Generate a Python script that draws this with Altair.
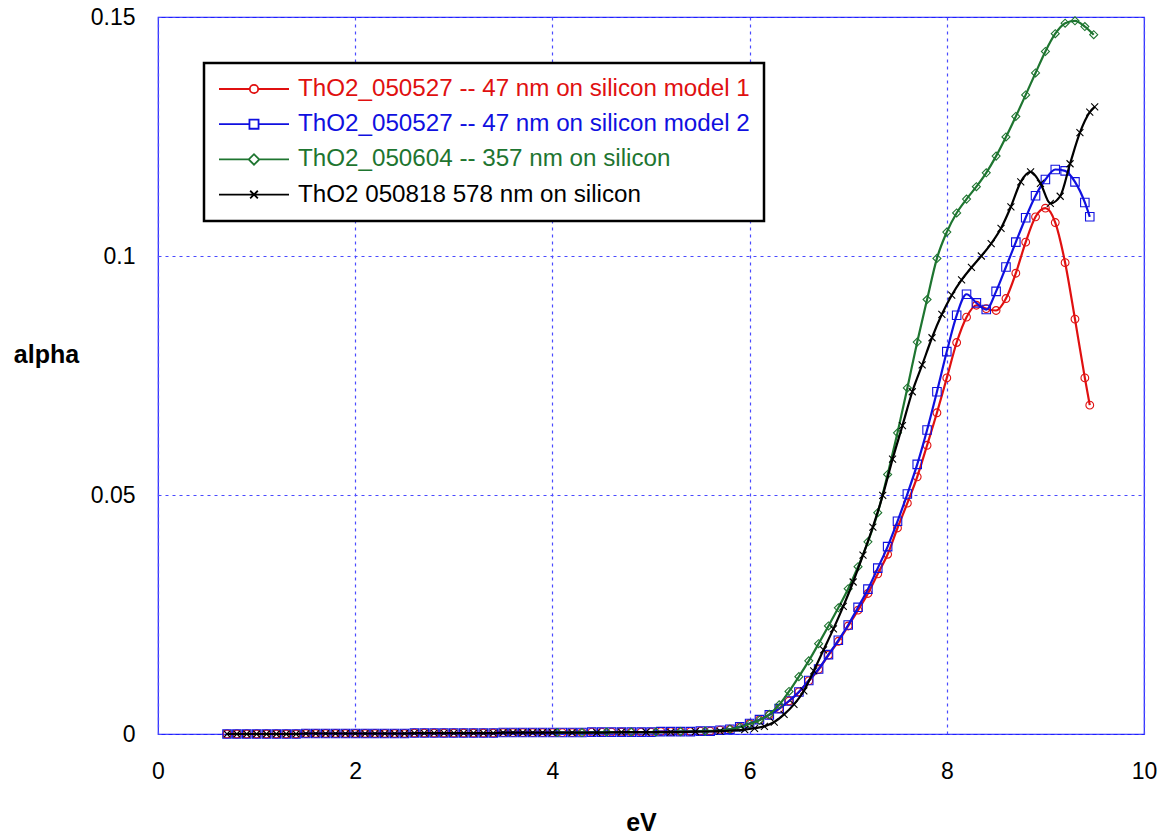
import altair as alt
import pandas as pd

names = [
    "ThO2_050527 -- 47 nm on silicon model 1",
    "ThO2_050527 -- 47 nm on silicon model 2",
    "ThO2_050604 -- 357 nm on silicon",
    "ThO2 050818 578 nm on silicon",
]
colors = ["#e01010", "#1010e0", "#1e7530", "#000000"]

# energy grid of the two 47 nm models (eV)
x_47 = [0.7, 0.8, 0.9, 1.0, 1.1, 1.2, 1.3, 1.4, 1.5, 1.6, 1.7, 1.8, 1.9,
        2.0, 2.1, 2.2, 2.3, 2.4, 2.5, 2.6, 2.7, 2.8, 2.9,
        3.0, 3.1, 3.2, 3.3, 3.4, 3.5, 3.6, 3.7, 3.8, 3.9,
        4.0, 4.1, 4.2, 4.3, 4.4, 4.5, 4.6, 4.7, 4.8, 4.9,
        5.0, 5.1, 5.2, 5.3, 5.4, 5.5, 5.6, 5.7, 5.8, 5.9,
        6.0, 6.1, 6.2, 6.3, 6.4, 6.5, 6.6, 6.7, 6.8, 6.9,
        7.0, 7.1, 7.2, 7.3, 7.4, 7.5, 7.6, 7.7, 7.8, 7.9,
        8.0, 8.1, 8.2, 8.3, 8.4, 8.5, 8.6, 8.7, 8.8, 8.9,
        9.0, 9.1, 9.2, 9.3, 9.4, 9.45]

y_model1 = [0.0, 0.0, 0.0, 0.0, 0.0, 0.0, 0.0, 0.0, 0.0001, 0.0001, 0.0001, 0.0001, 0.0001,
            0.0001, 0.0001, 0.0001, 0.0001, 0.0001, 0.0001, 0.0002, 0.0002, 0.0002, 0.0002,
            0.0002, 0.0002, 0.0002, 0.0002, 0.0002, 0.0003, 0.0003, 0.0003, 0.0003, 0.0003,
            0.0003, 0.0003, 0.0003, 0.0003, 0.0004, 0.0004, 0.0004, 0.0004, 0.0004, 0.0004,
            0.0004, 0.0005, 0.0005, 0.0005, 0.0005, 0.0006, 0.0006, 0.0008, 0.0010, 0.0015,
            0.0022, 0.0030, 0.0040, 0.0053, 0.0069, 0.0088, 0.0111, 0.0135, 0.0165, 0.0194,
            0.0226, 0.0259, 0.0294, 0.0335, 0.0376, 0.0431, 0.0483, 0.0538, 0.0604, 0.0672,
            0.0745, 0.0819, 0.0872, 0.0897, 0.0890, 0.0886, 0.0911, 0.0964, 0.1029, 0.1082,
            0.1100, 0.1070, 0.0986, 0.0868, 0.0745, 0.0688]

y_model2 = [0.0, 0.0, 0.0, 0.0, 0.0, 0.0, 0.0, 0.0, 0.0001, 0.0001, 0.0001, 0.0001, 0.0001,
            0.0001, 0.0001, 0.0001, 0.0001, 0.0001, 0.0001, 0.0002, 0.0002, 0.0002, 0.0002,
            0.0002, 0.0002, 0.0002, 0.0002, 0.0002, 0.0003, 0.0003, 0.0003, 0.0003, 0.0003,
            0.0003, 0.0003, 0.0003, 0.0003, 0.0004, 0.0004, 0.0004, 0.0004, 0.0004, 0.0004,
            0.0004, 0.0005, 0.0005, 0.0005, 0.0005, 0.0006, 0.0006, 0.0008, 0.0010, 0.0015,
            0.0022, 0.0030, 0.0040, 0.0053, 0.0069, 0.0088, 0.0112, 0.0136, 0.0166, 0.0196,
            0.0228, 0.0265, 0.0303, 0.0347, 0.0392, 0.0445, 0.0502, 0.0564, 0.0636, 0.0716,
            0.0800, 0.0876, 0.0920, 0.0902, 0.0888, 0.0926, 0.0977, 0.1029, 0.1080, 0.1126,
            0.1160, 0.1181, 0.1178, 0.1155, 0.1112, 0.1082]

x_357 = [4.05, 4.3, 4.55, 4.8, 5.05, 5.3, 5.55, 5.8, 5.9,
         6.0, 6.1, 6.2, 6.3, 6.4, 6.5, 6.6, 6.7, 6.8, 6.9,
         7.0, 7.1, 7.2, 7.3, 7.4, 7.5, 7.6, 7.7, 7.8, 7.9,
         8.0, 8.1, 8.2, 8.3, 8.4, 8.5, 8.6, 8.7, 8.8, 8.9,
         9.0, 9.1, 9.2, 9.3, 9.4, 9.49]
y_357 = [0.0003, 0.0003, 0.0004, 0.0004, 0.0004, 0.0005, 0.0006, 0.0010, 0.0014,
         0.0021, 0.0029, 0.0041, 0.0061, 0.0089, 0.0120, 0.0153, 0.0189, 0.0226, 0.0264,
         0.0304, 0.0350, 0.0402, 0.0463, 0.0543, 0.0630, 0.0724, 0.0820, 0.0909, 0.0995,
         0.1050, 0.1090, 0.1119, 0.1145, 0.1174, 0.1209, 0.1249, 0.1292, 0.1337, 0.1383,
         0.1428, 0.1465, 0.1487, 0.1492, 0.1480, 0.1463]

x_578 = [0.7, 0.8, 0.9, 1.0, 1.1, 1.2, 1.3, 1.4, 1.5, 1.6, 1.7, 1.8, 1.9,
         2.0, 2.1, 2.2, 2.3, 2.4, 2.5, 2.6, 2.7, 2.8, 2.9,
         3.0, 3.1, 3.2, 3.3, 3.4, 3.5, 3.6, 3.7, 3.8, 3.9, 4.0,
         4.2, 4.45, 4.7, 4.95, 5.2, 5.45, 5.7,
         5.95, 6.05, 6.15, 6.25, 6.35, 6.45, 6.55, 6.65, 6.75, 6.85, 6.95,
         7.05, 7.15, 7.25, 7.35, 7.45, 7.55, 7.65, 7.75, 7.85, 7.95,
         8.05, 8.15, 8.25, 8.35, 8.45, 8.55, 8.65, 8.75, 8.85, 8.95,
         9.05, 9.15, 9.25, 9.35, 9.45, 9.5]
y_578 = [0.0, 0.0, 0.0, 0.0, 0.0, 0.0, 0.0, 0.0, 0.0001, 0.0001, 0.0001, 0.0001, 0.0001,
         0.0001, 0.0001, 0.0001, 0.0001, 0.0001, 0.0001, 0.0002, 0.0002, 0.0002, 0.0002,
         0.0002, 0.0002, 0.0002, 0.0002, 0.0002, 0.0003, 0.0003, 0.0003, 0.0003, 0.0003, 0.0003,
         0.0003, 0.0003, 0.0004, 0.0004, 0.0004, 0.0005, 0.0006,
         0.0009, 0.0012, 0.0016, 0.0025, 0.0041, 0.0062, 0.0090, 0.0132, 0.0176, 0.0220, 0.0267,
         0.0318, 0.0374, 0.0433, 0.0499, 0.0575, 0.0645, 0.0716, 0.0772, 0.0829, 0.0878,
         0.0918, 0.0950, 0.0976, 0.1000, 0.1026, 0.1058, 0.1103, 0.1155, 0.1176, 0.1152,
         0.1110, 0.1125, 0.1193, 0.1258, 0.1301, 0.1312]

x_ticks = [0, 2, 4, 6, 8, 10]
y_ticks = [0, 0.05, 0.1, 0.15]

marker_shapes = ["circle", "square", "diamond", "M-1,-1L1,1M-1,1L1,-1"]
marker_sizes = [60, 72, 64, 49]
legend_paths = [
    "M-1,0L-0.12,0M0.12,0L1,0M0.12,0A0.12,0.12,0,1,1,-0.12,0A0.12,0.12,0,1,1,0.12,0",
    "M-1,0L-0.13,0M0.13,0L1,0M-0.13,-0.13L0.13,-0.13L0.13,0.13L-0.13,0.13Z",
    "M-1,0L-0.15,0M0.15,0L1,0M-0.15,0L0,-0.15L0.15,0L0,0.15Z",
    "M-1,0L1,0M-0.11,-0.11L0.11,0.11M-0.11,0.11L0.11,-0.11",
]

series = [(names[0], x_47, y_model1), (names[1], x_47, y_model2),
          (names[2], x_357, y_357), (names[3], x_578, y_578)]
rows = []
for name, xs, ys in series:
    for i, (a, b) in enumerate(zip(xs, ys)):
        rows.append({"series": name, "eV": a, "alpha": b, "idx": i})
df = pd.DataFrame(rows)

FONT = "Liberation Sans"
GRID = "#4a4aff"

x_enc = alt.X(
    "eV:Q",
    scale=alt.Scale(domain=[0, 10], nice=False, zero=False),
    axis=alt.Axis(
        values=x_ticks, format="d", grid=True, gridColor=GRID, gridDash=[3, 4],
        gridWidth=1.2, domain=False, ticks=False, labelFont=FONT, labelFontSize=23,
        labelColor="black", labelPadding=26, labelFlush=False,
        title="eV", titleFont=FONT, titleFontSize=25, titleFontWeight="bold",
        titleColor="black", titleX=483, titleY=96, titleAlign="center",
        titleBaseline="alphabetic",
    ),
)
y_enc = alt.Y(
    "alpha:Q",
    scale=alt.Scale(domain=[0, 0.15], nice=False),
    axis=alt.Axis(
        values=y_ticks, format=".2~f", grid=True, gridColor=GRID, gridDash=[3, 4],
        gridWidth=1.2, domain=False, ticks=False, labelFont=FONT, labelFontSize=23,
        labelColor="black", labelPadding=23, labelFlush=False,
        title="alpha", titleFont=FONT, titleFontSize=25, titleFontWeight="bold",
        titleColor="black", titleAngle=0, titleX=-112, titleY=345,
        titleAlign="center", titleBaseline="alphabetic",
    ),
)

layers = []
for k, name in enumerate(names):
    sub = df[df["series"] == name]
    base = alt.Chart(sub)
    layers.append(
        base.mark_line(color=colors[k], strokeWidth=2.2, interpolate="monotone").encode(
            x=x_enc, y=y_enc, order="idx:Q")
    )
    layers.append(
        base.mark_point(color=colors[k], shape=marker_shapes[k], size=marker_sizes[k],
                        filled=False, strokeWidth=1.1, opacity=1).encode(x=x_enc, y=y_enc)
    )

label_color = ("datum.label === '%s' ? '%s' : datum.label === '%s' ? '%s' : "
               "datum.label === '%s' ? '%s' : '%s'") % (
    names[0], colors[0], names[1], colors[1], names[2], colors[2], colors[3])

leg = alt.Legend(
    title=None, orient="none", legendX=46, legendY=46, direction="vertical",
    labelFont=FONT, labelFontSize=24.2, labelLimit=800, labelOffset=8,
    labelColor={"expr": label_color},
    symbolSize=4900, symbolStrokeWidth=1.8, symbolOpacity=1, clipHeight=24,
    rowPadding=10.2, padding=14, strokeColor="black", fillColor="white",
)
legend_layer = alt.Chart(df).mark_point(filled=False, opacity=0).encode(
    x=x_enc, y=y_enc,
    color=alt.Color("series:N", scale=alt.Scale(domain=names, range=colors), legend=leg),
    shape=alt.Shape("series:N", scale=alt.Scale(domain=names, range=legend_paths), legend=leg),
)
layers.append(legend_layer)

chart = alt.layer(*layers).properties(
    width=986, height=717,
    autosize=alt.AutoSizeParams(type="none"),
    padding={"left": 158, "top": 17, "right": 26, "bottom": 103},
    background="white",
).configure_view(stroke="#2020ff", strokeWidth=1.2).configure_legend(strokeWidth=2.5)

chart.save("out.html", embed_options={"renderer": "svg", "actions": False})
